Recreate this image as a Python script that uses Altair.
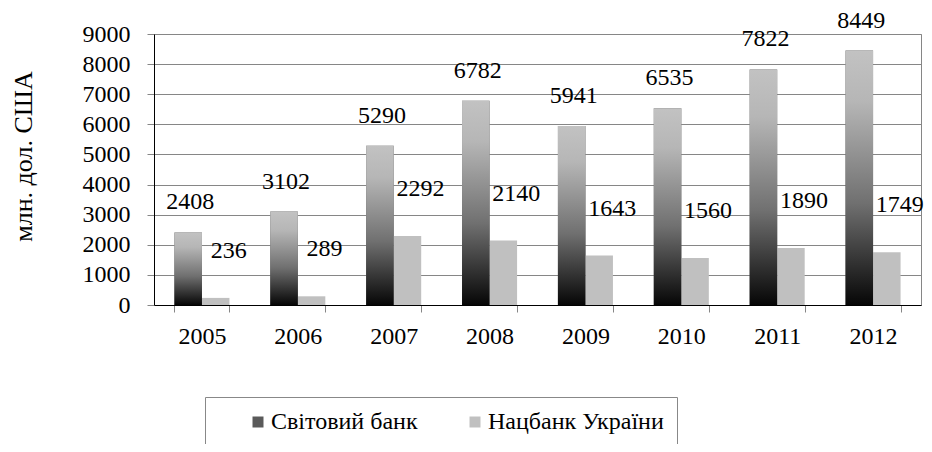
import altair as alt
import pandas as pd

years = ["2005", "2006", "2007", "2008", "2009", "2010", "2011", "2012"]
world_bank = [2408, 3102, 5290, 6782, 5941, 6535, 7822, 8449]
nbu = [236, 289, 2292, 2140, 1643, 1560, 1890, 1749]
series_names = ["Світовий банк", "Нацбанк України"]
y_ticks = [0, 1000, 2000, 3000, 4000, 5000, 6000, 7000, 8000, 9000]
y_title = "млн. дол. США"

rows = []
for i, yr in enumerate(years):
    rows.append({"year": yr, "series": series_names[0], "value": world_bank[i]})
    rows.append({"year": yr, "series": series_names[1], "value": nbu[i]})
df = pd.DataFrame(rows)

FONT = "Liberation Serif"
GRID = "#868686"

x_enc = alt.X(
    "year:N", sort=years,
    scale=alt.Scale(paddingInner=0.426, paddingOuter=0.213),
    axis=alt.Axis(title=None, labelAngle=0, tickBand="extent", tickSize=7,
                  tickColor=GRID, domainColor="black", labelFont=FONT,
                  labelFontSize=24, labelColor="black", labelPadding=12, grid=False),
)
xoff = alt.XOffset("series:N", sort=series_names,
                   scale=alt.Scale(domain=series_names, paddingInner=0, paddingOuter=0))
y_enc = alt.Y(
    "value:Q",
    scale=alt.Scale(domain=[0, 9000], nice=False),
    axis=alt.Axis(values=y_ticks, format="d", title=y_title, grid=True, gridColor=GRID,
                  tickSize=7, tickColor=GRID, domainColor="black", labelFont=FONT,
                  labelFontSize=24, labelColor="black", labelPadding=17,
                  titleFont=FONT, titleFontSize=26, titleFontWeight="normal",
                  titleColor="black", titleX=-131, titleY=122, titleAlign="center",
                  titleBaseline="middle", titleAngle=270),
)

gradient = alt.LinearGradient(
    gradient="linear",
    stops=[alt.GradientStop(color="#c2c2c2", offset=0),
           alt.GradientStop(color="#b6b6b6", offset=0.2),
           alt.GradientStop(color="#707070", offset=0.6),
           alt.GradientStop(color="#060606", offset=1)],
    x1=0, x2=0, y1=0, y2=1,
)

base = alt.Chart(df)

legend_bars = base.mark_bar().encode(
    x=x_enc, xOffset=xoff, y=y_enc,
    color=alt.Color(
        "series:N", sort=series_names,
        scale=alt.Scale(domain=series_names, range=["#5a5a5a", "#c0c0c0"]),
        legend=alt.Legend(
            title=" ", titleOrient="left", titlePadding=28, titleFontSize=22,
            orient="none", legendX=51, legendY=363, direction="horizontal",
            strokeColor="#888888", fillColor="white", padding=13,
            symbolType="square", symbolSize=121, symbolStrokeWidth=0,
            labelFont=FONT, labelFontSize=24, labelColor="black",
            labelOffset=1, columnPadding=45, labelLimit=400,
        ),
    ),
)

grad_bars = base.transform_filter(alt.datum.series == series_names[0]).mark_bar(
    color=gradient
).encode(x=x_enc, xOffset=xoff, y=y_enc)

lab1 = base.transform_filter(alt.datum.series == series_names[0]).mark_text(
    font=FONT, fontSize=24, dx=2, dy=-30, baseline="middle", color="black"
).encode(x=x_enc, xOffset=xoff, y=y_enc, text=alt.Text("value:Q", format="d"))

lab2 = base.transform_filter(alt.datum.series == series_names[1]).mark_text(
    font=FONT, fontSize=24, dx=13, dy=-47, baseline="middle", color="black"
).encode(x=x_enc, xOffset=xoff, y=y_enc, text=alt.Text("value:Q", format="d"))

chart = alt.layer(legend_bars, grad_bars, lab1, lab2).properties(
    width=767, height=271,
    autosize=alt.AutoSizeParams(type="none"),
    padding={"left": 146, "top": 26, "right": 3, "bottom": 139},
).configure_view(stroke=GRID, strokeWidth=1)

chart.save("out.html", embed_options={"renderer": "svg", "actions": False})
